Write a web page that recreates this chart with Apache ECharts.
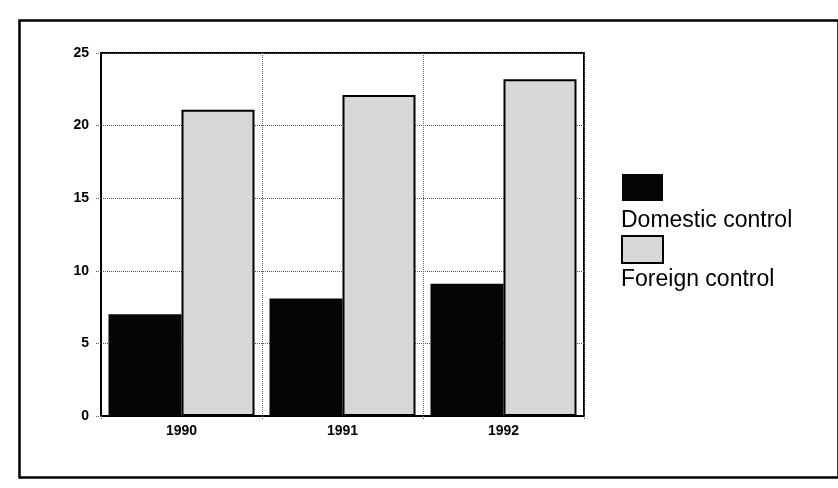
<!DOCTYPE html>
<html>
<head>
<meta charset="utf-8">
<script src="https://cdn.jsdelivr.net/npm/echarts@6/dist/echarts.min.js"></script>
<style>
html,body{margin:0;padding:0;background:#fff;}
#chart{width:838px;height:488px;}
</style>
</head>
<body>
<div id="chart"></div>
<script>
var categories = ['1990', '1991', '1992'];
var domesticControl = [7.0, 8.1, 9.1];
var foreignControl = [21.1, 22.1, 23.2];
var seriesNames = ['Domestic control', 'Foreign control'];
var yMin = 0, yMax = 25, yStep = 5;

var chart = echarts.init(document.getElementById('chart'), null, {renderer: 'canvas'});
var tickFont = {fontFamily: '"Liberation Sans", Arial, sans-serif', fontWeight: 'bold', fontSize: 14, color: '#000'};

chart.setOption({
  animation: false,
  backgroundColor: '#fff',
  grid: {left: 101, right: 254, top: 53, bottom: 72, show: true, borderColor: '#000', borderWidth: 2},
  legend: {
    orient: 'vertical', left: 621, top: 174, padding: 0,
    itemWidth: 41, itemHeight: 27, itemGap: 34,
    icon: 'rect',
    data: seriesNames,
    formatter: function () { return ''; },
    selectedMode: false
  },
  xAxis: {
    type: 'category', data: categories,
    axisLine: {lineStyle: {color: '#000', width: 2}},
    axisTick: {show: true, length: 4, lineStyle: {color: '#555', type: 'dotted'}},
    axisLabel: Object.assign({margin: 8}, tickFont),
    splitLine: {show: true, lineStyle: {color: '#666', type: 'dotted', width: 1}}
  },
  yAxis: {
    type: 'value', min: yMin, max: yMax, interval: yStep,
    axisLine: {show: true, lineStyle: {color: '#000', width: 2}},
    axisTick: {show: true, length: 5, lineStyle: {color: '#555', type: 'dotted'}},
    axisLabel: Object.assign({margin: 12}, tickFont),
    splitLine: {show: true, lineStyle: {color: '#555', type: 'dotted', width: 1}}
  },
  series: [
    {
      name: seriesNames[0], type: 'bar', data: domesticControl,
      barWidth: 73, barGap: '0%',
      itemStyle: {color: '#050505', borderColor: '#000', borderWidth: 0}
    },
    {
      name: seriesNames[1], type: 'bar', data: foreignControl,
      barWidth: 73, barGap: '0%',
      itemStyle: {color: '#d8d8d8', borderColor: '#000', borderWidth: 2}
    }
  ],
  graphic: [
    {type: 'rect', left: 17, top: 18, shape: {width: 819, height: 457}, style: {fill: 'none', stroke: '#000', lineWidth: 2.5}, z: -1, silent: true},
    {type: 'text', left: 621, top: 209, style: {text: seriesNames[0], font: '23px "Liberation Sans", Arial, sans-serif', fill: '#000'}},
    {type: 'text', left: 621, top: 268, style: {text: seriesNames[1], font: '23px "Liberation Sans", Arial, sans-serif', fill: '#000'}}
  ]
});
</script>
</body>
</html>
